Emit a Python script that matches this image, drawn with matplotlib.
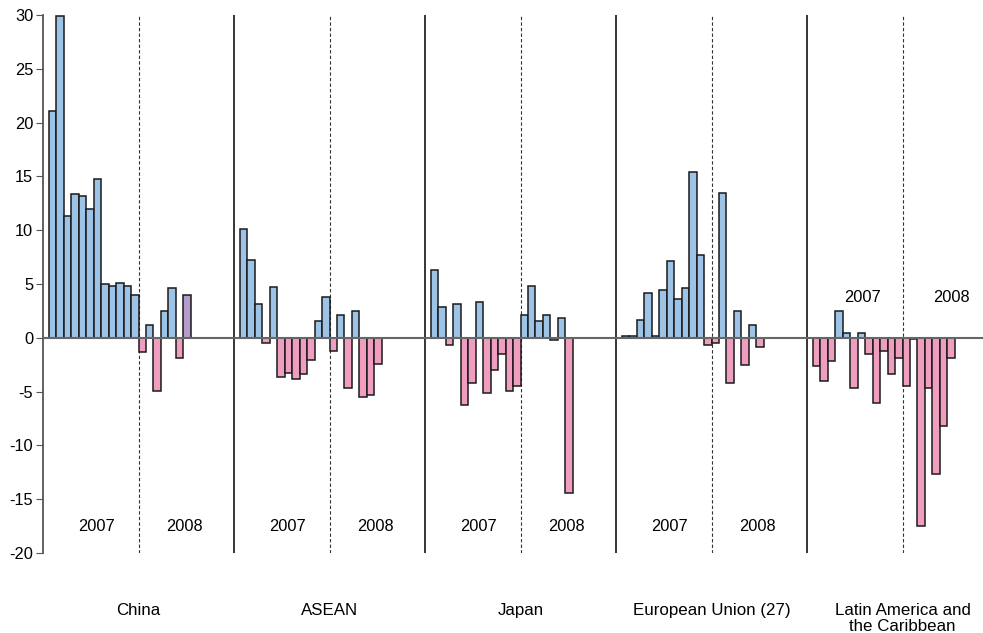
import matplotlib
matplotlib.use("Agg")
import matplotlib.pyplot as plt

plt.rcParams['font.family'] = ['Liberation Sans', 'DejaVu Sans']
plt.rcParams['axes.unicode_minus'] = False

# Data (monthly values)
regions = ["China", "ASEAN", "Japan", "European Union (27)",
           "Latin America and\nthe Caribbean"]
years = ["2007", "2008"]

china_2007 = [21.1, 29.9, 11.3, 13.4, 13.2, 12.0, 14.8, 5.0, 4.8, 5.1, 4.8, 4.0]
china_2008 = [-1.3, 1.2, -4.9, 2.5, 4.6, -1.9, 4.0]
asean_2007 = [10.1, 7.2, 3.1, -0.5, 4.7, -3.6, -3.3, -3.8, -3.4, -2.1, 1.6, 3.8]
asean_2008 = [-1.2, 2.1, -4.7, 2.5, -5.5, -5.3, -2.4]
japan_2007 = [6.3, 2.9, -0.7, 3.1, -6.2, -4.2, 3.3, -5.1, -3.0, -1.5, -4.9, -4.5]
japan_2008 = [2.1, 4.8, 1.6, 2.1, -0.2, 1.8, -14.4]
eu_2007 = [0.15, 0.15, 1.7, 4.2, 0.2, 4.4, 7.1, 3.6, 4.6, 15.4, 7.7, -0.7]
eu_2008 = [-0.5, 13.5, -4.2, 2.5, -2.5, 1.2, -0.9]
latam_2007 = [-2.6, -4.0, -2.2, 2.5, 0.4, -4.7, 0.4, -1.5, -6.1, -1.2, -3.4, -1.9]
latam_2008 = [-4.5, -0.1, -17.5, -4.7, -12.7, -8.2, -1.9]

series = [(china_2007, china_2008), (asean_2007, asean_2008),
          (japan_2007, japan_2008), (eu_2007, eu_2008),
          (latam_2007, latam_2008)]

BLUE = "#9dc3e6"
PINK = "#f09ec0"
PURPLE = "#b49ccb"
W = 25.6  # panel width in bar units

fig = plt.figure(figsize=(9.83, 6.33), dpi=100)
ax = fig.add_axes([43 / 983, 80 / 633, 940 / 983, 538 / 633])

for p, (v07, v08) in enumerate(series):
    left = p * W
    mid = left + W / 2
    xs = [mid - 12 + i for i in range(12)] + [mid + j for j in range(len(v08))]
    vals = list(v07) + list(v08)
    cols = [BLUE if v >= 0 else PINK for v in vals]
    if p == 0:
        cols[-1] = PURPLE  # overlapping bar in the source
    ax.bar(xs, vals, width=1.0, align='edge', color=cols,
           edgecolor="#1a1a1a", linewidth=1.1, zorder=3, clip_on=False)
    if p > 0:
        ax.axvline(left, color="black", lw=1.1, zorder=1)
    ax.axvline(mid, color="#333333", lw=0.8, ls=(0, (3, 2)), zorder=1)
    if p < 4:
        ax.text(left + 7.2, -17.5, years[0], ha='center', va='center', fontsize=11.8)
        ax.text(left + 19.0, -17.5, years[1], ha='center', va='center', fontsize=11.8)
    else:
        ax.text(left + 7.5, 3.7, years[0], ha='center', va='center', fontsize=11.8)
        ax.text(left + 19.4, 3.7, years[1], ha='center', va='center', fontsize=11.8)
    ax.text(mid, -0.093, regions[p], transform=ax.get_xaxis_transform(),
            ha='center', va='top', fontsize=12.2, linespacing=1.05)

ax.axhline(0, color="#666666", lw=1.5, zorder=4)

ax.set_xlim(0, 940 / (191 / W))
ax.set_ylim(-20, 30)
ax.set_yticks(range(-20, 31, 5))
for s in ["top", "right", "bottom"]:
    ax.spines[s].set_visible(False)
ax.spines["left"].set_color("#555555")
ax.spines["left"].set_linewidth(1.3)
ax.tick_params(axis='y', direction='out', length=5, color="#555555",
               labelsize=11.8, pad=2)
ax.set_xticks([])

fig.savefig("out.png", dpi=100)
